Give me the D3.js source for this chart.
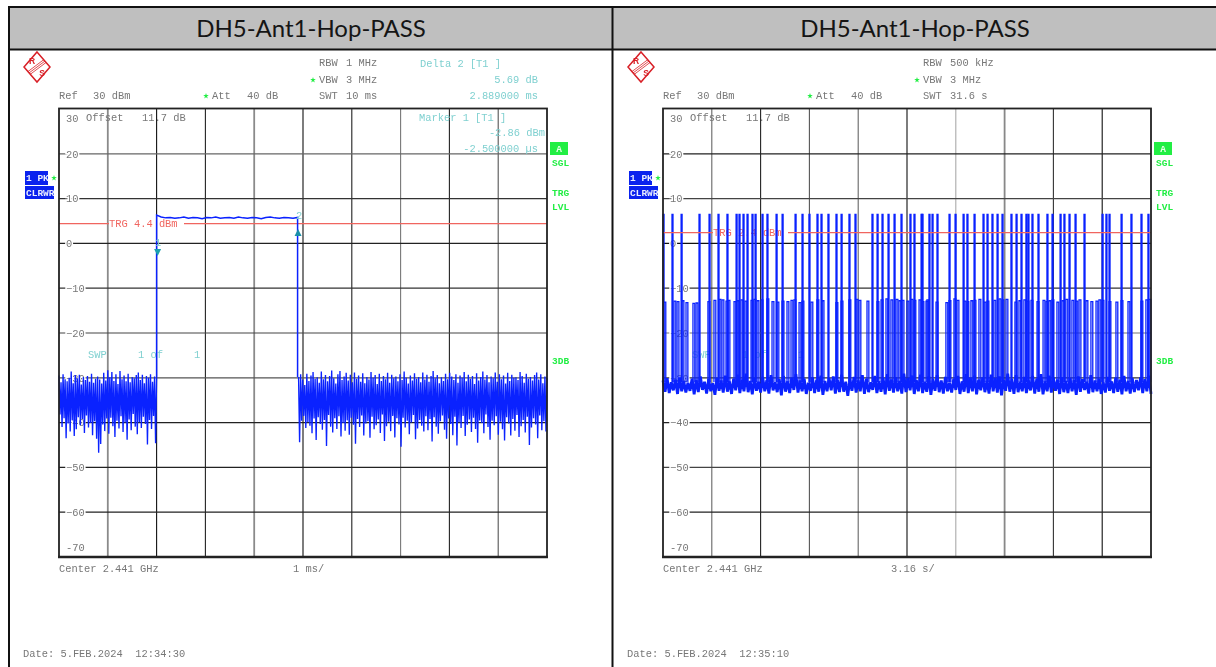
<!DOCTYPE html>
<html><head><meta charset="utf-8">
<script src="https://cdn.jsdelivr.net/npm/d3@7"></script>
<style>
html,body{margin:0;padding:0;background:#fff;overflow:hidden}
svg{display:block}
text{white-space:pre}
.m{font-family:"Liberation Mono",monospace;font-size:10.4px}
.b{font-weight:bold;font-size:9.5px}
.soft{filter:blur(0.35px)}
</style></head><body><div id="c"></div>
<script>
const titleText = "DH5-Ant1-Hop-PASS";
const levelTicks = [20,10,0,-10,-20,-30,-40,-50,-60];
const leftTime = [0,10];
const rightTime = [0,31.6];
const burstStart = 2.0, burstEnd = 4.889;
const triggerLeft = 4.4, triggerRight = 2.4;
const hopLevel = 6.5;

const noiseBefore = [-29.5,-38.2,-31,-41,-29.2,-39,-30.3,-43.5,-30.8,-40.2,-30,-42,-28.6,-39.5,-31.2,-43,-29.4,-41.5,-30.1,-38.8,-29.3,-40.6,-31.5,-39.2,-29.8,-42.3,-30.5,-38.4,-29.6,-41.1,-30.9,-40.1,-29.1,-42.8,-31.1,-39.7,-30.2,-43.6,-29.7,-46.7,-30.4,-44.8,-31.3,-40.4,-28.9,-41.9,-30.6,-39.1,-28.3,-42.5,-29.9,-38.9,-28.7,-40.8,-30.7,-43.2,-29.2,-39.6,-31.4,-41.3,-28.5,-38.6,-30.3,-42.1,-29.5,-40,-30.8,-43.8,-29.1,-39.3,-31,-41.7,-29.8,-38.1,-30.1,-40.9,-29.4,-42.6,-28.8,-39.9,-30.5,-41.2,-29.3,-38.7,-31.2,-40.3,-29.6,-44.9,-30,-39.4,-29.2,-41.4,-30.9,-38.5,-29.7,-44.6,-29.9];

const noiseAfter = [-29.8,-44.4,-29.2,-39.6,-30.4,-38.5,-31.6,-41.2,-29.1,-39.9,-30.7,-40.7,-29.5,-42.4,-28.7,-39.1,-30.2,-43.9,-29.9,-38.8,-31.1,-40.3,-28.6,-41.6,-30.3,-39.4,-29.4,-45.2,-30.8,-38.3,-29.6,-40.9,-28.4,-42.2,-30.1,-39,-31.3,-41.4,-29.2,-38.6,-28.5,-43.1,-30.5,-40.1,-29.7,-41.8,-28.9,-39.5,-30.6,-42.7,-29.3,-38.9,-31,-40.5,-28.8,-44.7,-30.2,-39.2,-29.5,-41,-30.9,-38.4,-29,-42.9,-31.2,-40.2,-29.8,-39.7,-30.4,-43.4,-28.7,-38.7,-30,-41.5,-29.4,-40.6,-31.4,-39.3,-29.1,-42.3,-30.7,-38.2,-29.6,-44.1,-30.3,-40.8,-28.9,-39.8,-31.1,-41.9,-29.3,-38.5,-30.1,-43.3,-29.7,-39,-30.8,-40.4,-29.2,-45.4,-30.5,-38.9,-28.6,-41.1,-30,-39.6,-31.3,-42.6,-29.5,-40,-30.6,-38.3,-29,-43.7,-30.2,-41.3,-29.8,-39.4,-31,-40.7,-28.8,-42,-30.4,-38.6,-29.3,-41.7,-30.9,-39.2,-29.6,-44.2,-28.5,-38.8,-30.1,-40.9,-29.4,-42.5,-31.2,-39.7,-29.9,-38.4,-30.7,-41.6,-29.1,-43.6,-30.3,-39.1,-28.9,-40.3,-29.7,-42.8,-30.5,-38.7,-29.2,-45.1,-31.1,-39.9,-29.5,-41.2,-30,-38.5,-28.7,-43,-30.8,-40.5,-29.3,-39.3,-30.2,-42.1,-29.6,-38.9,-31.4,-41.4,-29,-44.5,-30.6,-39.5,-29.8,-40.1,-28.6,-42.4,-30.4,-38.2,-29.4,-41,-31,-43.8,-29.7,-39.6,-30.1,-40.6,-28.8,-38.6,-30.9,-42.7,-29.2,-39.8,-30.3,-41.5,-29.5,-44,-31.3,-38.8,-28.9,-40.2,-30.7,-42.9,-29.3,-39.2,-30,-41.8,-29.9,-38.3,-30.5,-43.2,-28.7,-40.8,-29.6,-39.4,-31.1,-42.2,-29.1,-38.7,-30.2,-45,-29.8,-41.1,-30.6,-39,-29.4,-40.4,-28.8,-43.5,-30.4,-38.4,-29.2,-41.7,-31.2,-39.7,-29.7,-42,-30.1];

const burstTop = [6.3,5.9,5.7,5.8,5.6,5.7,5.9,5.6,5.8,5.7,5.5,5.8,5.7,5.9,5.6,5.7,5.8,5.6,5.9,5.7,5.6,5.8,5.7,5.5,5.8,5.9,5.7,5.6,5.8,5.7,5.6,5.8];

const tallHops = [0.00,0.58,1.17,2.33,2.98,3.56,4.14,4.73,4.92,5.18,5.44,5.76,5.96,6.41,6.73,7.32,7.71,8.55,9.00,9.45,9.97,10.23,10.68,11.20,11.53,12.04,12.43,13.53,13.86,14.18,14.57,14.96,15.41,15.99,16.25,16.71,16.77,17.22,17.42,17.74,18.52,18.91,19.43,19.68,20.14,20.72,20.98,21.30,21.63,21.95,22.53,22.86,23.18,23.50,23.63,23.89,24.28,24.86,25.19,25.71,25.96,26.29,26.68,27.26,28.43,28.68,28.88,29.66,30.30,30.95,31.40];

const midHops = [0.06,0.71,0.91,1.23,1.49,1.94,2.14,2.91,3.30,3.63,3.82,4.08,4.21,4.60,4.79,5.05,5.31,5.70,5.89,6.09,6.35,6.73,7.06,7.38,7.71,8.03,8.29,8.48,8.81,9.00,9.58,9.97,10.30,11.20,11.53,12.04,12.50,12.69,13.21,13.86,14.12,14.44,14.76,15.09,15.28,15.48,15.80,16.06,16.25,16.58,16.77,17.03,17.09,17.68,18.32,18.52,18.84,19.04,19.49,19.68,19.94,20.14,20.46,20.79,20.98,21.43,21.76,21.95,22.21,22.79,23.05,23.37,23.57,23.83,24.22,24.61,24.80,24.99,25.19,25.51,25.84,26.09,26.48,26.74,26.94,27.39,27.71,28.04,28.23,28.43,28.88,29.33,29.66,30.11,30.95,31.27,31.47];

const midLevels = [-13.1,-12.9,-13,-12.8,-13.2,-13.4,-13.3,-13,-12.7,-12.5,-12.6,-12.9,-12.7,-13,-12.8,-12.6,-12.9,-12.7,-12.5,-12.8,-12.6,-12.4,-13,-13.1,-12.9,-13,-12.7,-12.6,-13.2,-12.9,-13.1,-12.6,-12.8,-13.2,-12.9,-12.6,-12.5,-12.7,-12.9,-13,-12.6,-12.4,-12.6,-12.5,-12.8,-12.7,-12.9,-12.5,-12.7,-12.6,-13,-12.9,-12.6,-13.1,-13.2,-12.8,-12.4,-12.7,-12.9,-13,-12.8,-12.7,-12.5,-13.1,-12.9,-12.7,-12.4,-12.6,-12.5,-13.1,-12.8,-12.6,-12.9,-12.7,-13,-12.7,-13,-12.8,-12.6,-13.1,-12.8,-12.5,-12.7,-12.9,-12.6,-12.8,-13,-12.9,-12.6,-12.7,-13,-13.1,-12.8,-13,-12.9,-12.6,-12.5];

const floorTrace = [-30.6,-33.1,-30.1,-33.4,-31,-32.8,-30.4,-33.6,-29.9,-33,-30.7,-33.3,-31.1,-32.9,-30.2,-33.7,-30.5,-33.2,-29.7,-32.7,-30.9,-33.5,-30.3,-33,-31.2,-33.8,-30,-32.9,-30.6,-33.3,-29.5,-33.1,-30.8,-33.6,-30.2,-32.8,-29.3,-33.4,-30.4,-33,-29.1,-33.2,-30.7,-33.7,-30.1,-32.9,-30.9,-33.3,-29.8,-33,-30.5,-33.5,-29.4,-32.8,-31,-33.2,-30.3,-33.9,-29.6,-33.1,-30.8,-33.4,-30,-32.7,-29.2,-33.3,-30.6,-33,-30.2,-33.6,-31.1,-32.9,-29.9,-33.4,-30.4,-33.1,-29.5,-33.8,-30.7,-33,-30.1,-32.8,-29.7,-33.5,-30.5,-33.2,-29.3,-33.1,-30.9,-34,-30.3,-32.9,-29.8,-33.3,-30.6,-33,-29.4,-33.6,-30.2,-33.2,-31,-32.7,-29.6,-33.4,-30.8,-33.1,-30,-33.7,-29.2,-32.9,-30.4,-33.3,-29.9,-33,-30.7,-33.5,-29.1,-33.2,-30.1,-32.8,-29.5,-33.6,-30.5,-33,-29.3,-33.4,-30.9,-33.1,-29.7,-33.8,-30.3,-32.9,-29.4,-33.2,-30.6,-33.5,-29.8,-33,-31.1,-33.3,-30.2,-32.7,-29.6,-33.6,-30.8,-33.1,-29.2,-33.4,-30,-33,-29.5,-33.7,-30.4,-32.8,-29.9,-33.2,-30.7,-33.5,-29.3,-33,-30.1,-33.3,-29.7,-33.9,-30.5,-32.9,-29.1,-33.1,-30.3,-33.6,-29.4,-33.2,-30.9,-33,-29.8,-33.4,-30.6,-32.8,-29.6,-33.5,-30.2,-33.1,-29.2,-33.7,-30.8,-33,-29.5,-33.3,-30,-32.9,-30.4,-33.6,-29.9,-33.2,-30.7,-33.4,-30.1,-33,-30.5,-33.8,-29.7,-33.1,-30.3,-32.7,-30.9,-33.5,-29.4,-33.2,-30.6,-33,-30.2,-33.6,-31,-33.3,-29.8,-32.9,-30.8,-33.4,-30,-33.1,-30.4,-33.7,-29.6,-33,-30.7,-33.5,-30.1,-33.2,-30.5,-32.8,-29.9,-33.4,-30.3,-33,-29.5,-33.6];

const verticalShadeLeft = ["#8a8a8a","#111","#222","#8a8a8a","#111","#222","#777","#222","#555"];
const verticalShadeRight = ["#666","#222","#555","#666","#111","#aaa","#888","#333","#111"];
const horizontalShadeLeft = ["#666","#333","#222","#333","#444","#555","#222","#222","#222"];
const horizontalShadeRight = ["#222","#444","#111","#333","#777","#333","#222","#444","#222"];

const W=1216,H=667;
const svg=d3.select("#c").append("svg").attr("width",W).attr("height",H);
const GRAY="#777",CYAN="#7fd0d0",GREEN="#22ee44",RED="#f0655f",BLUE="#0a22ff";

// table frame
svg.append("rect").attr("x",9).attr("y",7).attr("width",W-9).attr("height",42).attr("fill","#bfbfbf");
[[8,7,1216,7],[8,49.5,1216,49.5],[9,7,9,667],[612.5,7,612.5,667]].forEach(d=>{
  svg.append("line").attr("x1",d[0]).attr("y1",d[1]).attr("x2",d[2]).attr("y2",d[3]).attr("stroke","#111").attr("stroke-width",2);
});
[311,915].forEach(x=>svg.append("text").attr("x",x).attr("y",37).attr("text-anchor","middle")
  .attr("font-family","Lato,'Open Sans',sans-serif").attr("font-size",24).attr("fill","#151515").text(titleText));

function txt(g,x,y,s,color,anchor,cls){
  return g.append("text").attr("class","m "+(cls||"")).attr("x",x).attr("y",y).attr("fill",color||GRAY)
    .attr("text-anchor",anchor||"start").text(s);
}
function star(g,x,y){
  g.append("path").attr("transform",`translate(${x},${y})`).attr("d",d3.symbol(d3.symbolStar,10)()).attr("fill",GREEN);
}

function panel(dx,cfg){
  const g=svg.append("g").attr("class","soft").attr("transform",`translate(${dx},0)`);
  const x=d3.scaleLinear().domain(cfg.time).range([59,547]);
  const y=d3.scaleLinear().domain([30,-70]).range([109,557]);
  const frac=d3.scaleLinear().domain([0,10]).range([59,547]);

  // logo
  const lg=g.append("g").attr("transform","translate(37,67)");
  lg.append("path").attr("d","M0,-15L13,0L0,15L-13,0Z").attr("fill","#fff").attr("stroke","#d81f26").attr("stroke-width",1.5);
  lg.append("path").attr("d","M-8,6L8,-6M-7,7.5L9,-4.5M-9,4.5L7,-7.5").attr("stroke","#d81f26").attr("stroke-width",.8);
  lg.append("text").attr("x",-5).attr("y",-3).attr("text-anchor","middle").attr("font-family","Liberation Sans").attr("font-weight","bold").attr("font-size",8.5).attr("fill","#d81f26").text("R");
  lg.append("text").attr("x",5).attr("y",9).attr("text-anchor","middle").attr("font-family","Liberation Sans").attr("font-weight","bold").attr("font-size",8.5).attr("fill","#d81f26").text("S");

  // header
  txt(g,59,99,"Ref"); txt(g,93,99,"30 dBm");
  star(g,206,96); txt(g,212,99,"Att"); txt(g,247,99,"40 dB");
  txt(g,319,66,"RBW"); txt(g,346,66,cfg.rbw);
  star(g,313,80); txt(g,319,83,"VBW"); txt(g,346,83,"3 MHz");
  txt(g,319,99,"SWT"); txt(g,346,99,cfg.swt);

  // grid
  d3.range(1,10).forEach(i=>{
    g.append("line").attr("x1",frac(i)).attr("x2",frac(i)).attr("y1",y(30)).attr("y2",y(-70))
      .attr("stroke",cfg.vShade[i-1]).attr("stroke-width",cfg.vShade[i-1]==="#8a8a8a"||cfg.vShade[i-1]==="#888"?1.8:1.1);
  });
  levelTicks.forEach((v,i)=>{
    g.append("line").attr("x1",59).attr("x2",547).attr("y1",y(v)).attr("y2",y(v))
      .attr("stroke",cfg.hShade[i]).attr("stroke-width",1.2);
  });

  // level axis labels
  const axis=d3.axisRight(y).tickValues(levelTicks).tickSize(0).tickPadding(7);
  const ag=g.append("g").attr("transform","translate(59,0)").call(axis);
  ag.select(".domain").remove();
  ag.selectAll("text").attr("class","m").attr("fill",GRAY).attr("stroke","#fff").attr("stroke-width",3)
    .attr("paint-order","stroke").attr("font-family",null).attr("font-size",null);
  txt(g,66,122,"30"); txt(g,66,551,"-70");
  txt(g,86,121,"Offset   11.7 dB");

  cfg.draw(g,x,y);

  // frame
  g.append("rect").attr("x",59).attr("y",108.5).attr("width",488).attr("height",448.5).attr("fill","none").attr("stroke","#222").attr("stroke-width",1.8);
  g.append("line").attr("x1",58).attr("x2",548).attr("y1",557).attr("y2",557).attr("stroke","#222").attr("stroke-width",2.6);

  // side annotations
  g.append("rect").attr("x",550).attr("y",142).attr("width",18).attr("height",13).attr("fill",GREEN);
  txt(g,559,152,"A","#e8ffe8","middle","b");
  txt(g,552,166,"SGL",GREEN,"start","b");
  txt(g,552,196,"TRG",GREEN,"start","b");
  txt(g,552,210,"LVL",GREEN,"start","b");
  txt(g,552,364,"3DB",GREEN,"start","b");
  g.append("rect").attr("x",25).attr("y",171).attr("width",23).attr("height",14).attr("fill","#0a22ee");
  txt(g,26,181,"1 PK","#e8ecff","start","b");
  star(g,54,178);
  g.append("rect").attr("x",25).attr("y",186).attr("width",29).attr("height",13).attr("fill","#0a22ee");
  txt(g,26,196,"CLRWR","#e8ecff","start","b");

  txt(g,59,572,"Center 2.441 GHz");
  txt(g,cfg.perX,572,cfg.per);
  txt(g,23,657,cfg.date);
}

const line=(x,y)=>d3.line().x(d=>x(d[0])).y(d=>y(d[1]));
const span=(arr,a,b)=>{const s=d3.scaleLinear().domain([0,arr.length-1]).range([a,b]);return arr.map((v,i)=>[s(i),v]);};

panel(0,{time:leftTime,rbw:"1 MHz",swt:"10 ms",per:"1 ms/",perX:293,date:"Date: 5.FEB.2024  12:34:30",
  vShade:verticalShadeLeft,hShade:horizontalShadeLeft,
  draw(g,x,y){
    txt(g,420,67,"Delta 2 [T1 ]",CYAN);
    txt(g,538,83,"5.69 dB",CYAN,"end");
    txt(g,538,99,"2.889000 ms",CYAN,"end");
    txt(g,419,121,"Marker 1 [T1 ]",CYAN);
    txt(g,545,136,"-2.86 dBm",CYAN,"end");
    txt(g,538,152,"-2.500000 \u00b5s",CYAN,"end");
    txt(g,88,358,"SWP",CYAN); txt(g,138,358,"1 of",CYAN); txt(g,194,358,"1",CYAN);
    // trigger
    g.append("line").attr("x1",59).attr("x2",109).attr("y1",y(triggerLeft)).attr("y2",y(triggerLeft)).attr("stroke",RED).attr("stroke-width",1.3);
    g.append("line").attr("x1",184).attr("x2",547).attr("y1",y(triggerLeft)).attr("y2",y(triggerLeft)).attr("stroke",RED).attr("stroke-width",1.3);
    txt(g,109,227,"TRG 4.4 dBm",RED);
    // trace
    const L=line(x,y);
    g.append("path").attr("d",L(span(noiseBefore,leftTime[0],burstStart))).attr("fill","none").attr("stroke",BLUE).attr("stroke-width",1.35);
    g.append("path").attr("d",L(span(noiseAfter,burstEnd+0.02,leftTime[1]))).attr("fill","none").attr("stroke",BLUE).attr("stroke-width",1.35);
    const top=span(burstTop,burstStart,burstEnd);
    g.append("path").attr("d",L([[burstStart,noiseBefore[noiseBefore.length-1]],...top,[burstEnd,noiseAfter[0]]])).attr("fill","none").attr("stroke",BLUE).attr("stroke-width",1.5);
    // markers
    g.append("path").attr("transform",`translate(${x(burstStart)+1},252.5)`).attr("d","M-3.5,-3.5L3.5,-3.5L0,3.5Z").attr("fill","#1aa0b0");
    g.append("path").attr("transform",`translate(${x(burstEnd)+.5},232.5)`).attr("d","M-3.5,3.5L3.5,3.5L0,-3.5Z").attr("fill","#1a90a8");
    txt(g,155,246,"1",CYAN); txt(g,296,219,"2",CYAN);
  }});

panel(604,{time:rightTime,rbw:"500 kHz",swt:"31.6 s",per:"3.16 s/",perX:287,date:"Date: 5.FEB.2024  12:35:10",
  vShade:verticalShadeRight,hShade:horizontalShadeRight,
  draw(g,x,y){
    txt(g,88,358,"SWP",CYAN); txt(g,138,358,"1 of",CYAN); txt(g,194,358,"1",CYAN);
    txt(g,109,236,"TRG 2.4 dBm",RED);
    const L=line(x,y);
    const floorBase=-31;
    g.append("g").selectAll("path").data(midHops).join("path")
      .attr("d",(t,i)=>L([[t,floorBase],[t,midLevels[i]],[t+0.12,midLevels[i]],[t+0.12,floorBase]]))
      .attr("fill","none").attr("stroke",BLUE).attr("stroke-width",1.3);
    g.append("g").selectAll("path").data(tallHops).join("path")
      .attr("d",t=>L([[t,floorBase],[t,hopLevel],[t+0.07,hopLevel],[t+0.07,floorBase]]))
      .attr("fill","none").attr("stroke",BLUE).attr("stroke-width",1.2);
    g.append("path").attr("d",L(span(floorTrace,rightTime[0],rightTime[1]))).attr("fill","none").attr("stroke",BLUE).attr("stroke-width",2.8);
    g.append("line").attr("x1",59).attr("x2",109).attr("y1",y(triggerRight)).attr("y2",y(triggerRight)).attr("stroke",RED).attr("stroke-width",1.3);
    g.append("line").attr("x1",184).attr("x2",547).attr("y1",y(triggerRight)).attr("y2",y(triggerRight)).attr("stroke",RED).attr("stroke-width",1.3);
  }});
</script></body></html>
